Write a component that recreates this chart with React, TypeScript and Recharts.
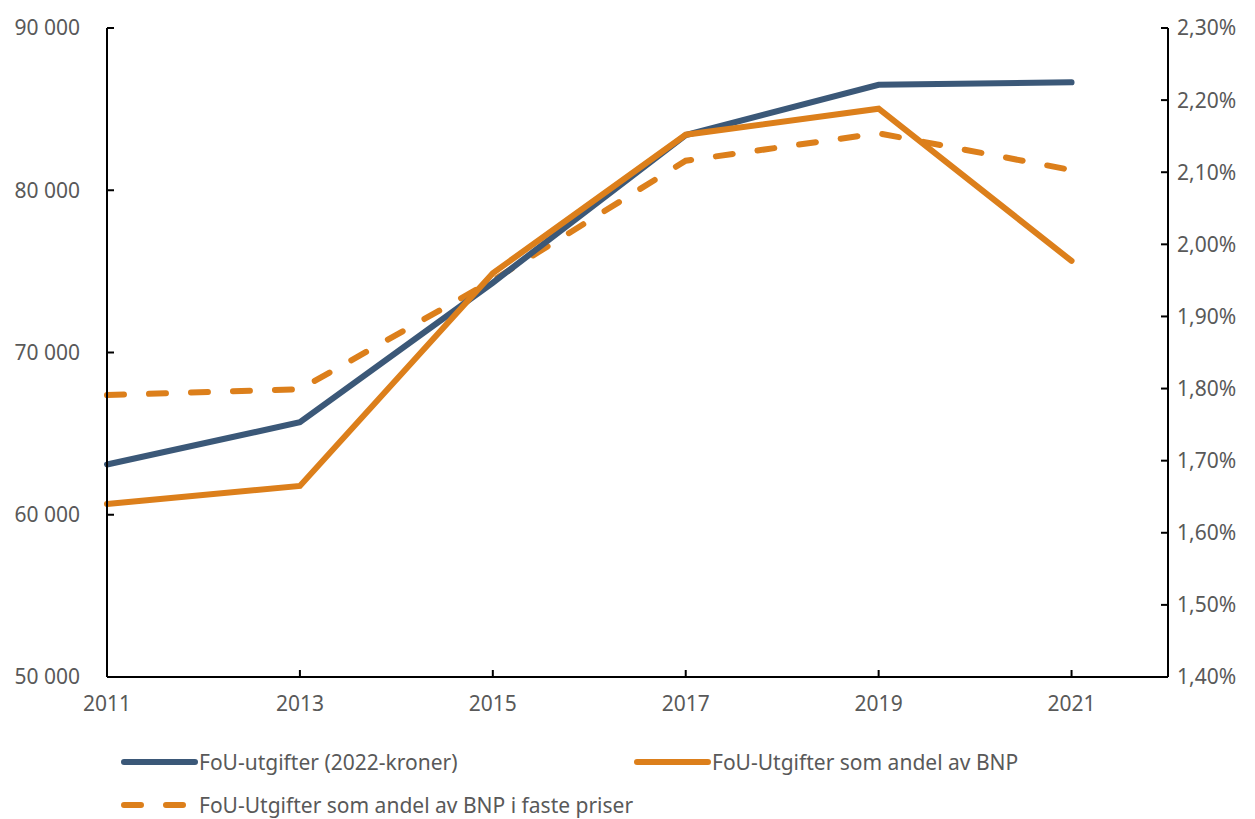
import { LineChart, Line, XAxis, YAxis } from 'recharts';

const years = [2011, 2013, 2015, 2017, 2019, 2021];
const fouKroner = [63100, 65700, 74300, 83400, 86500, 86650];
const andelBnp = [1.64, 1.665, 1.96, 2.152, 2.188, 1.977];
const andelFastePriser = [1.791, 1.799, 1.95, 2.116, 2.154, 2.103];

const leftTicks = [50000, 60000, 70000, 80000, 90000];
const rightTicks = [1.4, 1.5, 1.6, 1.7, 1.8, 1.9, 2.0, 2.1, 2.2, 2.3];

const BLUE = '#3B5878';
const ORANGE = '#DC7F1B';
const TEXT = '#595959';
const FONT = '"Noto Sans", sans-serif';
const FS = 21;

const data = years.map((year, i) => ({
  year,
  kroner: fouKroner[i],
  andel: andelBnp[i],
  faste: andelFastePriser[i],
}));

const fmtThousands = (v: number) => String(v).replace(/\B(?=(\d{3})+(?!\d))/g, ' ');
const fmtPct = (v: number) => v.toFixed(2).replace('.', ',') + '%';

const legendItems = [
  { label: 'FoU-utgifter (2022-kroner)', color: BLUE, dashed: false, left: 124, top: 762 },
  { label: 'FoU-Utgifter som andel av BNP', color: ORANGE, dashed: false, left: 637, top: 762 },
  { label: 'FoU-Utgifter som andel av BNP i faste priser', color: ORANGE, dashed: true, left: 124, top: 805 },
];

// legend drawn as plain html under the plot
function CustomLegend() {
  return (
    <>
      {legendItems.map((it) => (
        <div
          key={it.label}
          style={{
            position: 'absolute', left: it.left - 3, top: it.top - 11,
            display: 'flex', alignItems: 'center', fontFamily: FONT, fontSize: FS, color: TEXT,
            whiteSpace: 'nowrap', height: 22,
          }}
        >
          <svg width={80} height={22}>
            <line
              x1={3} y1={11} x2={it.dashed ? 68 : 74} y2={11}
              stroke={it.color} strokeWidth={6} strokeLinecap="round"
              strokeDasharray={it.dashed ? '17 25' : undefined}
            />
          </svg>
          <span style={{ marginLeft: -2 }}>{it.label}</span>
        </div>
      ))}
    </>
  );
}

export default function App() {
  return (
    <div style={{ position: 'absolute', left: 0, top: 0, width: 1255, height: 819, background: '#fff' }}>
      <LineChart width={1255} height={819} data={data} margin={{ top: 28, right: 0, bottom: 0, left: 0 }}>
        <XAxis
          dataKey="year"
          type="number"
          domain={[2011, 2022]}
          ticks={years}
          height={142}
          stroke="#000"
          strokeWidth={2}
          tickSize={-7}
          tickMargin={26}
          tick={{ fill: TEXT, fontSize: FS, fontFamily: FONT }}
        />
        <YAxis
          yAxisId="left"
          domain={[50000, 90000]}
          ticks={leftTicks}
          width={107}
          stroke="#000"
          strokeWidth={2}
          tickSize={-7}
          tickMargin={34}
          tickFormatter={fmtThousands}
          tick={{ fill: TEXT, fontSize: FS, fontFamily: FONT }}
        />
        <YAxis
          yAxisId="right"
          orientation="right"
          domain={[1.4, 2.3]}
          ticks={rightTicks}
          width={87}
          stroke="#000"
          strokeWidth={2}
          tickSize={-7}
          tickMargin={16}
          tickFormatter={fmtPct}
          tick={{ fill: TEXT, fontSize: FS, fontFamily: FONT, textAnchor: 'start' }}
        />
        <Line
          yAxisId="right"
          dataKey="faste"
          stroke={ORANGE}
          strokeWidth={6}
          strokeDasharray="17 25"
          strokeLinecap="round"
          dot={false}
          isAnimationActive={false}
        />
        <Line
          yAxisId="left"
          dataKey="kroner"
          stroke={BLUE}
          strokeWidth={6}
          strokeLinecap="round"
          dot={false}
          isAnimationActive={false}
        />
        <Line
          yAxisId="right"
          dataKey="andel"
          stroke={ORANGE}
          strokeWidth={6}
          strokeLinecap="round"
          dot={false}
          isAnimationActive={false}
        />
      </LineChart>
      <CustomLegend />
    </div>
  );
}
